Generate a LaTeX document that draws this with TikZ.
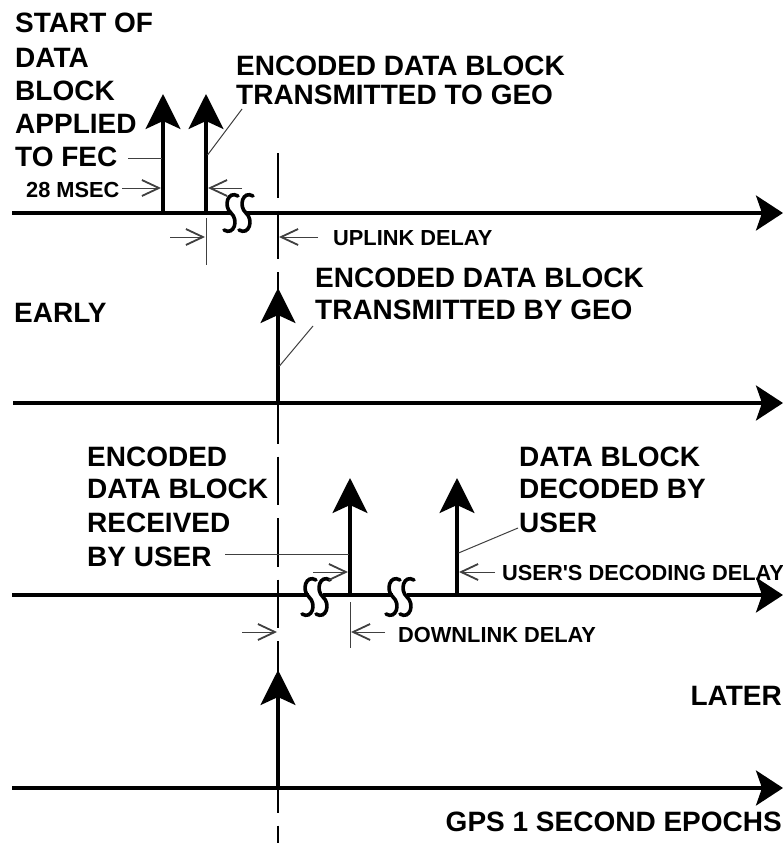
\documentclass[tikz,border=0pt]{standalone}
\usepackage{fontspec}
\setmainfont{Liberation Sans}
\usetikzlibrary{arrows.meta}
\newcommand\brkS[2]{\draw[brk] (#1+7,#2-17) .. controls (#1-3,#2-23) and (#1-8,#2-7) .. (#1,#2) .. controls (#1+8,#2+7) and (#1+3,#2+23) .. (#1-7,#2+17);}
\begin{document}
\begin{tikzpicture}[x=1pt,y=-1pt,
  axis/.style={line width=3.5pt, -{Stealth[length=27pt,width=35pt,inset=6pt]}},
  axisseg/.style={line width=3.5pt},
  pulse/.style={line width=3.2pt, -{Stealth[length=35pt,width=35pt,inset=8pt]}},
  thinline/.style={line width=1pt, black!75},
  dimarrow/.style={line width=1pt, black!75, -{Straight Barb[length=17pt,width=16pt,line width=1.8pt]}},
  brk/.style={line width=3.6pt, line cap=round},
  big/.style={font=\fontsize{28}{33}\selectfont\bfseries, inner sep=0pt, anchor=base west},
  bigr/.style={font=\fontsize{28}{33}\selectfont\bfseries, inner sep=0pt, anchor=base east},
  small/.style={font=\fontsize{21.8}{26}\selectfont\bfseries, inner sep=0pt, anchor=base west},
  epoch/.style={line width=1.3pt, dash pattern=on 48.5pt off 13pt, dash phase=4pt}
]
\useasboundingbox (0,0) rectangle (783,843);
\fill[white] (0,0) rectangle (783,843);

% epoch line
\coordinate (ep1) at (278,153);
\coordinate (ep2) at (278,843);
\draw[epoch] (ep1) -- (ep2);

% axes
\coordinate (a1s) at (12,213); \coordinate (a1b1) at (230,213); \coordinate (a1b2) at (245,213); \coordinate (a1e) at (783,213);
\coordinate (a2s) at (13,403); \coordinate (a2e) at (783,403);
\coordinate (a3s) at (12,595); \coordinate (a3b1) at (309,595); \coordinate (a3b2) at (323,595);
\coordinate (a3b3) at (393,595); \coordinate (a3b4) at (407,595); \coordinate (a3e) at (783,595);
\coordinate (a4s) at (12,788); \coordinate (a4e) at (783,788);

\draw[axisseg] (a1s) -- (a1b1);
\draw[axis] (a1b2) -- (a1e);
\draw[axis] (a2s) -- (a2e);
\draw[axisseg] (a3s) -- (a3b1);
\draw[axisseg] (a3b2) -- (a3b3);
\draw[axis] (a3b4) -- (a3e);
\draw[axis] (a4s) -- (a4e);

% pulses
\coordinate (p1b) at (163,213); \coordinate (p1t) at (163,94);
\coordinate (p2b) at (206,213); \coordinate (p2t) at (206,94);
\coordinate (p3b) at (278,403); \coordinate (p3t) at (278,288);
\coordinate (p4b) at (350,595); \coordinate (p4t) at (350,478);
\coordinate (p5b) at (457,595); \coordinate (p5t) at (457,478);
\coordinate (p6b) at (278,788); \coordinate (p6t) at (278,670);
\draw[pulse] (p1b) -- (p1t);
\draw[pulse] (p2b) -- (p2t);
\draw[pulse] (p3b) -- (p3t);
\draw[pulse] (p4b) -- (p4t);
\draw[pulse] (p5b) -- (p5t);
\draw[pulse] (p6b) -- (p6t);

% breaks
\brkS{231}{213}
\brkS{246}{213}
\brkS{309}{597}
\brkS{323}{597}
\brkS{393}{597}
\brkS{407}{597}

% leaders
\coordinate (l1a) at (128,158); \coordinate (l1b) at (161.5,158);
\coordinate (l2a) at (207.5,155); \coordinate (l2b) at (242,109);
\coordinate (l3a) at (279.5,366); \coordinate (l3b) at (313,326);
\coordinate (l4a) at (225,554); \coordinate (l4b) at (348.5,554);
\coordinate (l5a) at (458.5,553); \coordinate (l5b) at (518,528);
\draw[thinline] (l1a) -- (l1b);
\draw[thinline] (l2a) -- (l2b);
\draw[thinline] (l3a) -- (l3b);
\draw[thinline] (l4a) -- (l4b);
\draw[thinline] (l5a) -- (l5b);

% dimension arrows and ticks
\coordinate (d1a) at (122,188); \coordinate (d1b) at (161,188);
\coordinate (d2a) at (242,188); \coordinate (d2b) at (208,188);
\coordinate (t1a) at (206,218); \coordinate (t1b) at (206,265);
\coordinate (d3a) at (170,237); \coordinate (d3b) at (205,237);
\coordinate (d4a) at (318,237); \coordinate (d4b) at (279,237);
\coordinate (d5a) at (313,572); \coordinate (d5b) at (348,572);
\coordinate (d6a) at (495,572); \coordinate (d6b) at (459,572);
\coordinate (d7a) at (242,632); \coordinate (d7b) at (277,632);
\coordinate (t2a) at (350,602); \coordinate (t2b) at (350,648);
\coordinate (d8a) at (385,632); \coordinate (d8b) at (351,632);
\draw[dimarrow] (d1a) -- (d1b);
\draw[dimarrow] (d2a) -- (d2b);
\draw[thinline] (t1a) -- (t1b);
\draw[dimarrow] (d3a) -- (d3b);
\draw[dimarrow] (d4a) -- (d4b);
\draw[dimarrow] (d5a) -- (d5b);
\draw[dimarrow] (d6a) -- (d6b);
\draw[dimarrow] (d7a) -- (d7b);
\draw[thinline] (t2a) -- (t2b);
\draw[dimarrow] (d8a) -- (d8b);

% texts
\node[big] (s1) at (15,33) {START OF};
\node[big] (s2) at (15,67) {DATA};
\node[big] (s3) at (15,100) {BLOCK};
\node[big] (s4) at (15,133) {APPLIED};
\node[big] (s5) at (15,166) {TO FEC};
\node[small] (ms) at (26,197) {28 MSEC};
\node[big] (e1) at (236,75) {ENCODED DATA BLOCK};
\node[big] (e2) at (236,104) {TRANSMITTED TO GEO};
\node[small] (up) at (333,245) {UPLINK DELAY};
\node[big] (early) at (14,322) {EARLY};
\node[big] (g1) at (315,287) {ENCODED DATA BLOCK};
\node[big] (g2) at (315,319) {TRANSMITTED BY GEO};
\node[big] (r1) at (87,466) {ENCODED};
\node[big] (r2) at (87,498) {DATA BLOCK};
\node[big] (r3) at (87,532) {RECEIVED};
\node[big] (r4) at (87,566) {BY USER};
\node[big] (u1) at (519,466) {DATA BLOCK};
\node[big] (u2) at (519,498) {DECODED BY};
\node[big] (u3) at (519,532) {USER};
\node[small] (dec) at (502,580) {USER\textquotesingle S DECODING DELAY};
\node[small] (down) at (398,642) {DOWNLINK DELAY};
\node[bigr] (later) at (782,705) {LATER};
\node[bigr] (gps) at (782,831) {GPS 1 SECOND EPOCHS};
\end{tikzpicture}
\end{document}
